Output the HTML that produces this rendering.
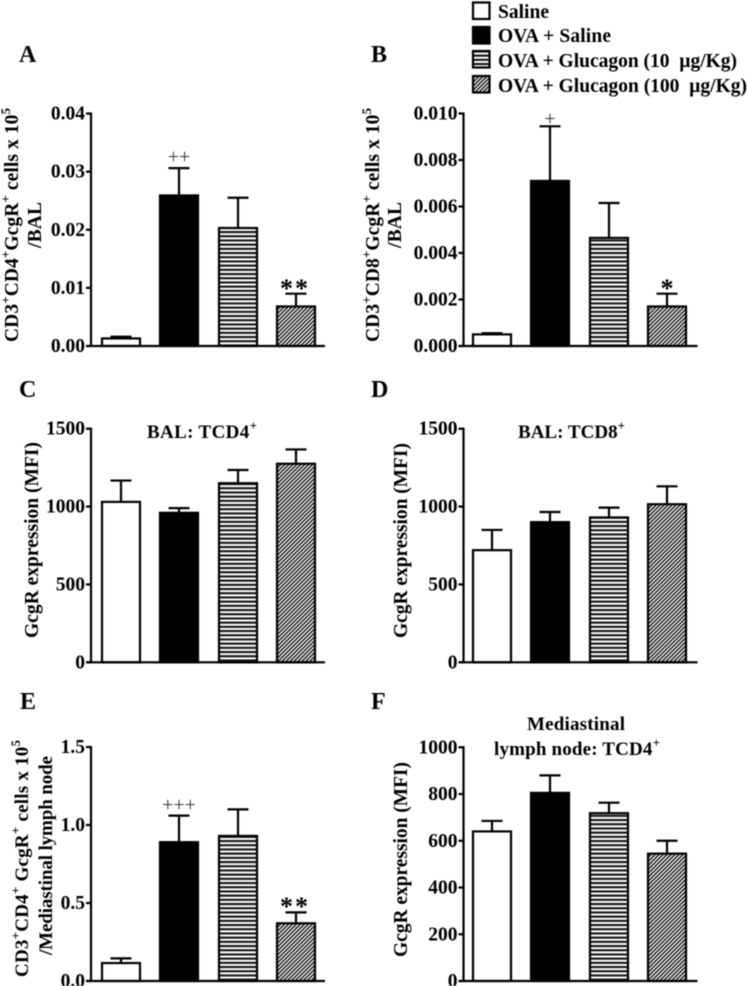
<!DOCTYPE html>
<html lang="en">
<head>
<meta charset="utf-8">
<title>GcgR expression bar charts</title>
<style>
html,body{margin:0;padding:0;background:#fff;}
svg{display:block;filter:blur(0.4px);}
text{font-family:"Liberation Serif",serif;fill:#000;}
.b{font-weight:bold;}
</style>
</head>
<body>
<svg id="figure" xmlns="http://www.w3.org/2000/svg" width="748" height="986" viewBox="0 0 748 986">
<defs>
<pattern id="hstripes" width="4" height="4.2" patternUnits="userSpaceOnUse">
<rect width="4" height="4.2" fill="#fff"/>
<rect width="4" height="2.1" fill="#111"/>
</pattern>
<pattern id="diag" width="2.8" height="2.8" patternUnits="userSpaceOnUse" patternTransform="rotate(-45)">
<rect width="2.8" height="2.8" fill="#eee"/>
<rect width="2.8" height="1.4" fill="#1a1a1a"/>
</pattern>
</defs>
<rect width="748" height="986" fill="#fff"/>
<g>
<g>
<rect x="473" y="2.5" width="16.5" height="16.5" fill="#fff" stroke="#000" stroke-width="2.2"/>
<text class="b" x="498" y="18" font-size="19.5" textLength="51">Saline</text>
</g>
<g>
<rect x="473" y="27" width="16.5" height="16.5" fill="#000" stroke="#000" stroke-width="2.2"/>
<text class="b" x="498" y="42" font-size="19.5" textLength="113">OVA + Saline</text>
</g>
<g>
<rect x="473" y="51" width="16.5" height="16.5" fill="url(#hstripes)" stroke="#000" stroke-width="2.2"/>
<text class="b" x="498" y="67" font-size="19.5" textLength="239">OVA + Glucagon (10 &#160;µg/Kg)</text>
</g>
<g>
<rect x="473" y="76" width="16.5" height="16.5" fill="url(#diag)" stroke="#000" stroke-width="2.2"/>
<text class="b" x="498" y="92" font-size="19.5" textLength="249">OVA + Glucagon (100 &#160;µg/Kg)</text>
</g>
</g>
</svg>
<script>
// Chart data
const groups = ['saline', 'ova-saline', 'glucagon-10', 'glucagon-100'];
const aValues = [0.0013, 0.0259, 0.0203, 0.0068];
const aErrors = [0.0003, 0.0047, 0.0052, 0.0022];
const aTicks = ['0.00', '0.01', '0.02', '0.03', '0.04'];
const bValues = [0.0005, 0.0071, 0.00465, 0.0017];
const bErrors = [0.00005, 0.00235, 0.0015, 0.00055];
const bTicks = ['0.000', '0.002', '0.004', '0.006', '0.008', '0.010'];
const cValues = [1030, 960, 1150, 1275];
const cErrors = [137, 30, 85, 92];
const cTicks = ['0', '500', '1000', '1500'];
const dValues = [720, 900, 930, 1015];
const dErrors = [130, 65, 63, 115];
const dTicks = ['0', '500', '1000', '1500'];
const eValues = [0.115, 0.89, 0.93, 0.37];
const eErrors = [0.03, 0.17, 0.17, 0.07];
const eTicks = ['0.0', '0.5', '1.0', '1.5'];
const fValues = [640, 805, 718, 545];
const fErrors = [45, 75, 45, 55];
const fTicks = ['0', '200', '400', '600', '800', '1000'];

const NS = 'http://www.w3.org/2000/svg';
const svg = document.getElementById('figure');
const barFills = ['#fff', '#000', 'url(#hstripes)', 'url(#diag)'];
const barLeftOffsets = [11, 69, 128, 186];
const barWidth = 38;

function mk(parent, tag, attrs, content) {
  const el = document.createElementNS(NS, tag);
  for (const k in attrs) el.setAttribute(k, attrs[k]);
  if (content !== undefined) el.textContent = content;
  parent.appendChild(el);
  return el;
}

// Adds text made of normal and superscript runs ("^" prefix = superscript).
function addRuns(textEl, runs, size) {
  let raised = false;
  runs.forEach(function (r) {
    const sup = r.charAt(0) === '^';
    const t = document.createElementNS(NS, 'tspan');
    t.textContent = sup ? r.slice(1) : r;
    if (sup) {
      t.setAttribute('font-size', Math.round(size * 0.68));
      t.setAttribute('dy', -size * 0.42);
    } else if (raised) {
      t.setAttribute('dy', size * 0.42);
    }
    raised = sup;
    textEl.appendChild(t);
  });
}

function drawPanel(p) {
  const g = mk(svg, 'g', {});
  
  

  const y = function (v) { return p.bottom - (v / p.max) * (p.bottom - p.top); };

  const letter = mk(g, 'text', { x: p.letterX, y: p.letterY, 'font-size': 24, 'class': 'b' }, p.letter);
  
  

  // bars and error bars
  p.values.forEach(function (v, i) {
    const left = p.axisX + p.barShift + barLeftOffsets[i];
    const cx = left + barWidth / 2;
    const errTop = y(v + p.errors[i]);
    const stem = mk(g, 'line', { x1: cx, x2: cx, y1: y(v), y2: errTop, stroke: '#000', 'stroke-width': 2.2 });
    
    
    const cap = mk(g, 'line', { x1: cx - 10.5, x2: cx + 10.5, y1: errTop, y2: errTop, stroke: '#000', 'stroke-width': 2.2 });
    
    
    const bar = mk(g, 'rect', { x: left, y: y(v), width: barWidth, height: p.bottom - y(v), fill: barFills[i], stroke: '#000', 'stroke-width': 2.2 });
    
    
  });

  // axes
  const yAxis = mk(g, 'line', { x1: p.axisX, x2: p.axisX, y1: p.top - 1, y2: p.bottom + 1, stroke: '#000', 'stroke-width': 2.2 });
  
  
  const xAxis = mk(g, 'line', { x1: p.axisX - 5, x2: p.axisX + 234, y1: p.bottom, y2: p.bottom, stroke: '#000', 'stroke-width': 2.2 });
  
  

  p.ticks.forEach(function (label) {
    const ty = y(parseFloat(label));
    const tick = mk(g, 'line', { x1: p.axisX - 5, x2: p.axisX, y1: ty, y2: ty, stroke: '#000', 'stroke-width': 2.2 });
    
    
    const tl = mk(g, 'text', { x: p.axisX - 6, y: ty + 6, 'font-size': 19.5, 'text-anchor': 'end', 'class': 'b' }, label);
    
    
  });

  // y axis title lines
  p.yTitle.forEach(function (line) {
    const t = mk(g, 'text', { 'class': 'b', 'font-size': line.size, 'text-anchor': 'middle', transform: 'translate(' + line.x + ',' + line.cy + ') rotate(-90)', textLength: line.len });
    
    
    addRuns(t, line.runs, line.size);
  });

  // panel titles
  p.titles.forEach(function (line) {
    const t = mk(g, 'text', { 'class': 'b', 'font-size': 19, x: line.x, y: line.y, textLength: line.len });
    
    
    addRuns(t, line.runs, 19);
  });

  // significance marks
  p.marks.forEach(function (m) {
    const t = mk(g, 'text', { x: m.x, y: m.y, 'font-size': m.size, 'text-anchor': 'middle', 'class': m.bold ? 'b' : '', 'letter-spacing': m.spacing }, m.text);
    
    
    t.style.fill = m.bold ? '#000' : '#333';
  });
}

drawPanel({
  letter: 'A', letterX: 19, letterY: 62, axisX: 91, barShift: 0, top: 113.5, bottom: 346, max: 0.04,
  values: aValues, errors: aErrors, ticks: aTicks,
  yTitle: [
    { x: 18, cy: 225, size: 19.5, len: 234, runs: ['CD3', '^+', 'CD4', '^+', 'GcgR', '^+', ' cells x 10', '^5'] },
    { x: 41, cy: 225, size: 19.5, len: 46, runs: ['/BAL'] }
  ],
  titles: [],
  marks: [
    { x: 179, y: 163, size: 20, text: '++', bold: false, spacing: 0 },
    { x: 295, y: 297, size: 26, text: '**', bold: true, spacing: 2 }
  ]
});
drawPanel({
  letter: 'B', letterX: 371, letterY: 62, axisX: 463.5, barShift: -1.5, top: 113.5, bottom: 346, max: 0.01,
  values: bValues, errors: bErrors, ticks: bTicks,
  yTitle: [
    { x: 379, cy: 225, size: 19.5, len: 234, runs: ['CD3', '^+', 'CD8', '^+', 'GcgR', '^+', ' cells x 10', '^5'] },
    { x: 401, cy: 225, size: 19.5, len: 46, runs: ['/BAL'] }
  ],
  titles: [],
  marks: [
    { x: 550, y: 125, size: 20, text: '+', bold: false, spacing: 0 },
    { x: 667, y: 297, size: 26, text: '*', bold: true, spacing: 0 }
  ]
});
drawPanel({
  letter: 'C', letterX: 19, letterY: 397, axisX: 91, barShift: 0, top: 428.7, bottom: 662.3, max: 1500,
  values: cValues, errors: cErrors, ticks: cTicks,
  yTitle: [
    { x: 38, cy: 540, size: 19.5, len: 196, runs: ['GcgR expression (MFI)'] }
  ],
  titles: [
    { x: 147, y: 438, len: 110, runs: ['BAL: TCD4', '^+'] }
  ],
  marks: []
});
drawPanel({
  letter: 'D', letterX: 371, letterY: 397, axisX: 463.5, barShift: -1.5, top: 428.7, bottom: 662.3, max: 1500,
  values: dValues, errors: dErrors, ticks: dTicks,
  yTitle: [
    { x: 407, cy: 540.5, size: 19.5, len: 195, runs: ['GcgR expression (MFI)'] }
  ],
  titles: [
    { x: 518, y: 438, len: 107, runs: ['BAL: TCD8', '^+'] }
  ],
  marks: []
});
drawPanel({
  letter: 'E', letterX: 20, letterY: 709, axisX: 91, barShift: 0, top: 747, bottom: 981, max: 1.5,
  values: eValues, errors: eErrors, ticks: eTicks,
  yTitle: [
    { x: 28, cy: 858.5, size: 19, len: 237, runs: ['CD3', '^+', 'CD4', '^+', ' GcgR', '^+', ' cells x 10', '^5'] },
    { x: 52, cy: 855.5, size: 19, len: 199, runs: ['/Mediastinal lymph node'] }
  ],
  titles: [],
  marks: [
    { x: 179, y: 811, size: 20, text: '+++', bold: false, spacing: 0 },
    { x: 295, y: 915, size: 26, text: '**', bold: true, spacing: 2 }
  ]
});
drawPanel({
  letter: 'F', letterX: 371, letterY: 709, axisX: 463.5, barShift: -1.5, top: 747.3, bottom: 981, max: 1000,
  values: fValues, errors: fErrors, ticks: fTicks,
  yTitle: [
    { x: 407, cy: 859.5, size: 19.5, len: 195, runs: ['GcgR expression (MFI)'] }
  ],
  titles: [
    { x: 527, y: 730, len: 98, runs: ['Mediastinal'] },
    { x: 494, y: 755, len: 166, runs: ['lymph node: TCD4', '^+'] }
  ],
  marks: []
});
</script>
</body>
</html>
